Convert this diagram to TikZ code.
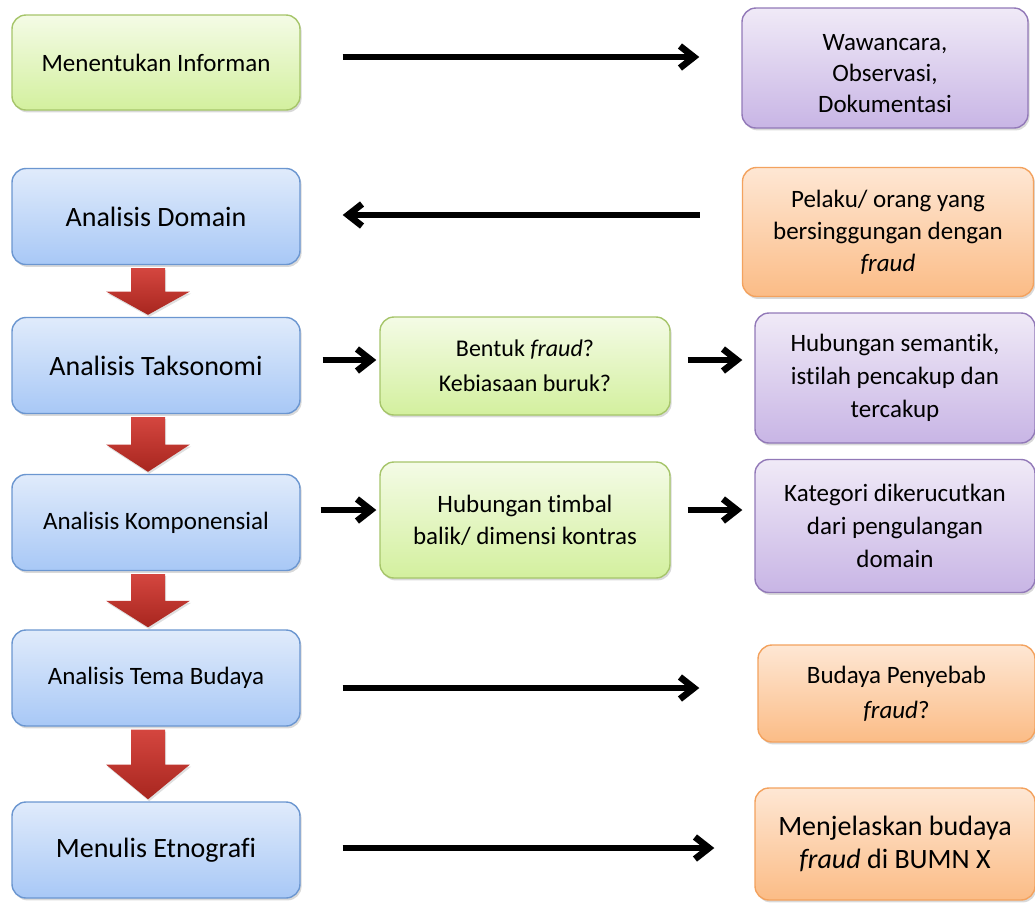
\documentclass[tikz,border=0pt]{standalone}
\usepackage{fontspec}
\setmainfont{Carlito}[Ligatures={NoCommon}]
\usetikzlibrary{arrows.meta,calc,shadows}

\definecolor{grnTop}{HTML}{F4FBE6}
\definecolor{grnBot}{HTML}{D3F09E}
\definecolor{grnLine}{HTML}{A6C56A}
\definecolor{bluTop}{HTML}{E0EBFB}
\definecolor{bluBot}{HTML}{A8C8F6}
\definecolor{bluLine}{HTML}{6B96D0}
\definecolor{purTop}{HTML}{F0EAF7}
\definecolor{purBot}{HTML}{C8B5E5}
\definecolor{purLine}{HTML}{9279B8}
\definecolor{orgTop}{HTML}{FEE7D4}
\definecolor{orgBot}{HTML}{FBBC86}
\definecolor{orgLine}{HTML}{F3A25E}
\definecolor{redTop}{HTML}{D4463F}
\definecolor{redBot}{HTML}{A8261F}

\begin{document}
\begin{tikzpicture}[x=0.5pt,y=-0.5pt,
 box/.style={draw,rounded corners=7pt,align=center,inner sep=2pt,line width=.7pt,
  drop shadow={opacity=.3,shadow xshift=.8pt,shadow yshift=-1.2pt}},
 grnbox/.style={box,draw=grnLine,top color=grnTop,bottom color=grnBot},
 blubox/.style={box,draw=bluLine,top color=bluTop,bottom color=bluBot,minimum width=144pt,minimum height=48pt},
 purbox/.style={box,draw=purLine,top color=purTop,bottom color=purBot},
 orgbox/.style={box,draw=orgLine,top color=orgTop,bottom color=orgBot},
 redarr/.style={top color=redTop,bottom color=redBot,
  drop shadow={opacity=.25,shadow xshift=.6pt,shadow yshift=-1pt}},
 arr/.style={line width=3.3pt,-{Straight Barb[length=7pt,width=11pt]}}]
\useasboundingbox (0,0) rectangle (1035,902);
% left column
\node[grnbox,minimum width=144pt,minimum height=47.5pt,font=\fontsize{12.5}{15}\selectfont] (info) at (156,62.5) {Menentukan Informan};
\node[blubox,font=\fontsize{14}{17}\selectfont] (dom) at (156,216.5) {Analisis Domain};
\node[blubox,font=\fontsize{14}{17}\selectfont] (tak) at (156,365.5) {Analisis Taksonomi};
\node[blubox,font=\fontsize{12.5}{15}\selectfont] (komp) at (156,522.5) {Analisis Komponensial};
\node[blubox,font=\fontsize{12.5}{15}\selectfont] (tema) at (156,678) {Analisis Tema Budaya};
\node[blubox,font=\fontsize{14}{17}\selectfont] (tulis) at (156,850) {Menulis Etnografi};
% middle column
\node[grnbox,minimum width=145pt,minimum height=49pt,font=\fontsize{12}{17.5}\selectfont] (bent) at (525,366) {Bentuk \textit{fraud}?\\Kebiasaan buruk?};
\node[grnbox,minimum width=145pt,minimum height=58pt,font=\fontsize{12.5}{16}\selectfont] (timb) at (525,520) {Hubungan timbal\\balik/ dimensi kontras};
% right column
\node[purbox,minimum width=143pt,minimum height=60pt,font=\fontsize{12.5}{15.5}\selectfont] (wcr) at (885,68) {\rule{0pt}{14pt}Wawancara,\\Observasi,\\Dokumentasi};
\node[orgbox,minimum width=145.5pt,minimum height=64.5pt,font=\fontsize{12.5}{16}\selectfont] (pel) at (888,232) {Pelaku/ orang yang\\bersinggungan dengan\\\textit{fraud}};
\node[purbox,minimum width=140pt,minimum height=65pt,font=\fontsize{12.5}{16.5}\selectfont] (sem) at (895,378) {Hubungan semantik,\\istilah pencakup dan\\tercakup};
\node[purbox,minimum width=140pt,minimum height=66.5pt,font=\fontsize{12.5}{16.5}\selectfont] (kat) at (895,526) {Kategori dikerucutkan\\dari pengulangan\\domain};
\node[orgbox,minimum width=138.5pt,minimum height=48.5pt,font=\fontsize{12.5}{17.5}\selectfont] (bud) at (896.5,693.5) {Budaya Penyebab\\\textit{fraud}?};
\node[orgbox,minimum width=140pt,minimum height=56pt,font=\fontsize{14}{16.5}\selectfont] (men) at (895,844) {Menjelaskan budaya\\\textit{fraud} di BUMN X};
% red block arrows
\foreach \a/\b in {dom/tak,tak/komp,komp/tema,tema/tulis}{
 \coordinate (t) at ($(\a.south)+(-8,3)$);
 \coordinate (p) at ($(\b.north)+(-8,-2)$);
 \coordinate (h) at ($(t)!.5!(p)$);
 \shade[redarr] ($(t)+(-17,0)$) -- ($(h)+(-17,0)$) -- ($(h)+(-42,0)$) -- (p)
  -- ($(h)+(42,0)$) -- ($(h)+(17,0)$) -- ($(t)+(17,0)$) -- cycle;
}
% black arrows
\draw[arr,shorten <=21pt,shorten >=21pt] ([yshift=2.75pt]info.east) -- ([yshift=2.75pt]info.east -| wcr.west);
\draw[arr,shorten <=21pt,shorten >=21pt] ([yshift=.75pt]dom.east -| pel.west) -- ([yshift=.75pt]dom.east);
\draw[arr,shorten <=11pt,shorten >=1.5pt] ([yshift=2.75pt]tak.east) -- ([yshift=2.75pt]tak.east -| bent.west);
\draw[arr,shorten <=8.5pt,shorten >=6pt] ([yshift=2.75pt]tak.east -| bent.east) -- ([yshift=2.75pt]tak.east -| sem.west);
\draw[arr,shorten <=10pt,shorten >=1.5pt] ([yshift=6.25pt]komp.east) -- ([yshift=6.25pt]komp.east -| timb.west);
\draw[arr,shorten <=8.5pt,shorten >=6pt] ([yshift=6.25pt]komp.east -| timb.east) -- ([yshift=6.25pt]komp.east -| kat.west);
\draw[arr,shorten <=21pt,shorten >=29pt] ([yshift=-5pt]tema.east) -- ([yshift=-5pt]tema.east -| bud.west);
\draw[arr,shorten <=21pt,shorten >=20pt] ([yshift=1pt]tulis.east) -- ([yshift=1pt]tulis.east -| men.west);
\end{tikzpicture}
\end{document}
